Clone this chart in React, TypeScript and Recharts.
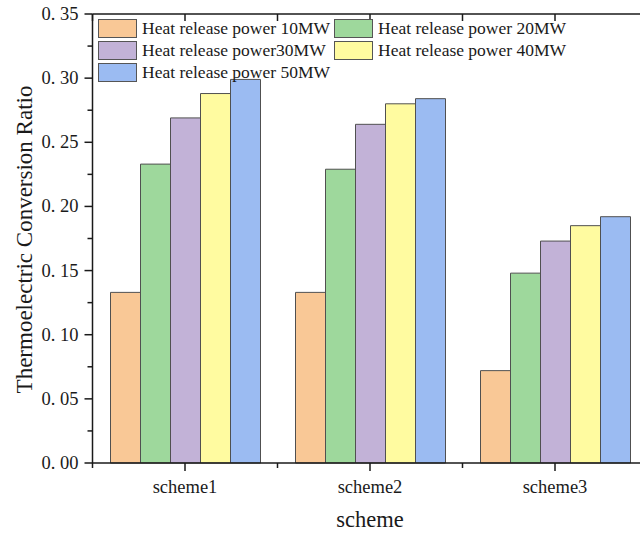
import React from 'react';
import { BarChart, Bar, XAxis, YAxis, Legend } from 'recharts';

// Thermoelectric conversion ratio per scheme, one series per heat release power
const categories = ['scheme1', 'scheme2', 'scheme3'];
const power10MW = [0.133, 0.133, 0.072];
const power20MW = [0.233, 0.229, 0.148];
const power30MW = [0.269, 0.264, 0.173];
const power40MW = [0.288, 0.28, 0.185];
const power50MW = [0.299, 0.284, 0.192];

const seriesKeys = ['p10', 'p20', 'p30', 'p40', 'p50'];
const seriesNames = [
  'Heat release power 10MW',
  'Heat release power 20MW',
  'Heat release power30MW',
  'Heat release power 40MW',
  'Heat release power 50MW',
];
const seriesColors = ['#F9C896', '#9ED89C', '#C2B2D7', '#FFFBA0', '#9BBBF2'];

// major ticks every 0.05, minor ticks in between
const yTicks = [0, 0.025, 0.05, 0.075, 0.1, 0.125, 0.15, 0.175, 0.2, 0.225, 0.25, 0.275, 0.3, 0.325, 0.35];

const yAxisTitle = 'Thermoelectric Conversion Ratio';
const xAxisTitle = 'scheme';

const seriesValues = [power10MW, power20MW, power30MW, power40MW, power50MW];
const data = categories.map((scheme, i) => {
  const row: Record<string, string | number> = { scheme };
  seriesKeys.forEach((k, s) => {
    row[k] = seriesValues[s][i];
  });
  return row;
});

const FONT = '"Liberation Serif", "Times New Roman", serif';
const INK = '#1a1a1a';
const AXIS_W = 1.5;

const isMajor = (v: number) => Math.round(v * 1000) % 50 === 0;
const formatY = (v: number) => v.toFixed(2).replace('.', '. ');

const LeftTick = (props: any) => {
  const { x, y, payload } = props;
  const v = payload.value as number;
  const major = isMajor(v);
  const axisX = x + 8 + 6;
  return (
    <g>
      <line x1={axisX - (major ? 8 : 5)} x2={axisX} y1={y} y2={y} stroke={INK} strokeWidth={AXIS_W} />
      {major && (
        <text x={x} y={y} textAnchor="end" dominantBaseline="central" fontFamily={FONT} fontSize={18.5} fill={INK}>
          {formatY(v)}
        </text>
      )}
    </g>
  );
};

const RightTick = (props: any) => {
  const { x, y, payload } = props;
  const major = isMajor(payload.value as number);
  const axisX = x - 8;
  return <line x1={axisX - (major ? 8 : 5)} x2={axisX} y1={y} y2={y} stroke={INK} strokeWidth={AXIS_W} />;
};

const halfBand = (props: any) => {
  const { payload, width, visibleTicksCount } = props;
  return payload.offset || width / (visibleTicksCount || categories.length) / 2;
};

const BottomTick = (props: any) => {
  const { x, y, payload, index, visibleTicksCount } = props;
  const axisY = y - 8 - 8;
  const half = halfBand(props);
  const last = index === (visibleTicksCount || categories.length) - 1;
  return (
    <g>
      <line x1={x} x2={x} y1={axisY} y2={axisY + 8} stroke={INK} strokeWidth={AXIS_W} />
      <line x1={x - half} x2={x - half} y1={axisY} y2={axisY + 5} stroke={INK} strokeWidth={AXIS_W} />
      {last && <line x1={x + half} x2={x + half} y1={axisY} y2={axisY + 5} stroke={INK} strokeWidth={AXIS_W} />}
      <text x={x} y={axisY + 30} textAnchor="middle" fontFamily={FONT} fontSize={18.5} fill={INK}>
        {payload.value}
      </text>
    </g>
  );
};

const TopTick = (props: any) => {
  const { x, y, index, visibleTicksCount } = props;
  const axisY = y + 8;
  const half = halfBand(props);
  const last = index === (visibleTicksCount || categories.length) - 1;
  return (
    <g>
      <line x1={x} x2={x} y1={axisY} y2={axisY + 7} stroke={INK} strokeWidth={AXIS_W} />
      <line x1={x - half} x2={x - half} y1={axisY} y2={axisY + 7} stroke={INK} strokeWidth={AXIS_W} />
      {last && <line x1={x + half} x2={x + half} y1={axisY} y2={axisY + 7} stroke={INK} strokeWidth={AXIS_W} />}
    </g>
  );
};

const YTitle = (props: any) => {
  const vb = props.viewBox || { x: 0, y: 0, width: 0, height: 0 };
  const cx = vb.x + 24;
  const cy = vb.y + vb.height / 2 + 1;
  return (
    <text
      x={cx}
      y={cy}
      transform={`rotate(-90, ${cx}, ${cy})`}
      textAnchor="middle"
      dominantBaseline="central"
      fontFamily={FONT}
      fontSize={23}
      fill={INK}
    >
      {yAxisTitle}
    </text>
  );
};

const XTitle = (props: any) => {
  const vb = props.viewBox || { x: 0, y: 0, width: 0, height: 0 };
  return (
    <text x={vb.x + vb.width / 2} y={vb.y + 64} textAnchor="middle" fontFamily={FONT} fontSize={22.5} fill={INK}>
      {xAxisTitle}
    </text>
  );
};

const LegendBox = () => (
  <div
    style={{
      display: 'grid',
      gridTemplateColumns: '236px 236px',
      rowGap: 3,
      fontFamily: FONT,
      fontSize: 17.5,
      color: INK,
    }}
  >
    {seriesNames.map((name, i) => (
      <div key={name} style={{ display: 'flex', alignItems: 'center', height: 19 }}>
        <span
          style={{
            display: 'inline-block',
            boxSizing: 'border-box',
            width: 39,
            height: 19,
            background: seriesColors[i],
            border: '1px solid #555',
            marginRight: 5,
          }}
        />
        <span style={{ lineHeight: '19px', whiteSpace: 'nowrap' }}>{name}</span>
      </div>
    ))}
  </div>
);

export default function App() {
  return (
    <div style={{ position: 'absolute', left: 0, top: 0, width: 640, height: 534, overflow: 'hidden', background: '#fff' }}>
      <BarChart
        width={680}
        height={534}
        data={data}
        margin={{ top: 4, right: 31.5, left: 0, bottom: 0 }}
        barCategoryGap={18}
        barGap={0}
      >
        <XAxis
          xAxisId="bottom"
          dataKey="scheme"
          orientation="bottom"
          height={71}
          tickSize={8}
          tickMargin={8}
          tickLine={false}
          axisLine={{ stroke: INK, strokeWidth: AXIS_W }}
          tick={<BottomTick />}
          interval={0}
          label={<XTitle />}
        />
        <XAxis
          xAxisId="top"
          dataKey="scheme"
          orientation="top"
          height={10}
          tickSize={8}
          tickMargin={0}
          tickLine={false}
          axisLine={{ stroke: INK, strokeWidth: AXIS_W }}
          tick={<TopTick />}
          interval={0}
        />
        <YAxis
          yAxisId="left"
          orientation="left"
          width={92.5}
          domain={[0, 0.35]}
          ticks={yTicks}
          interval={0}
          tickSize={8}
          tickMargin={6}
          tickLine={false}
          axisLine={{ stroke: INK, strokeWidth: AXIS_W }}
          tick={<LeftTick />}
          label={<YTitle />}
        />
        <YAxis
          yAxisId="right"
          orientation="right"
          width={1}
          domain={[0, 0.35]}
          ticks={yTicks}
          interval={0}
          tickSize={8}
          tickMargin={0}
          tickLine={false}
          axisLine={{ stroke: INK, strokeWidth: AXIS_W }}
          tick={<RightTick />}
        />
        <Legend
          layout="horizontal"
          verticalAlign="middle"
          align="center"
          wrapperStyle={{ left: 98, top: 19, width: 480, height: 'auto' }}
          content={<LegendBox />}
        />
        {seriesKeys.map((k, i) => (
          <Bar
            key={k}
            xAxisId="bottom"
            yAxisId="left"
            dataKey={k}
            name={seriesNames[i]}
            fill={seriesColors[i]}
            stroke="#505050"
            strokeWidth={1}
            isAnimationActive={false}
          />
        ))}
      </BarChart>
    </div>
  );
}
